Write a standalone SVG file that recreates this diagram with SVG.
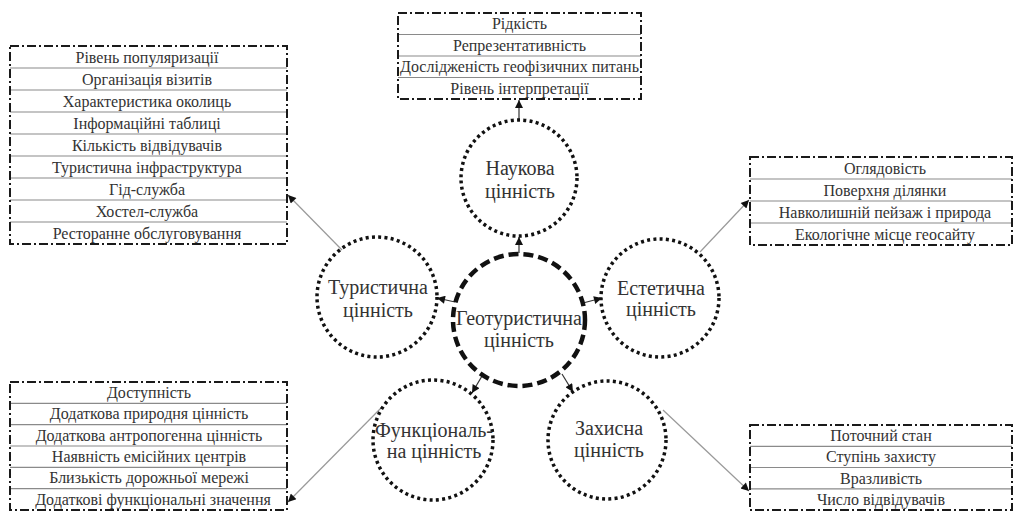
<svg xmlns="http://www.w3.org/2000/svg" width="1017" height="512" viewBox="0 0 1017 512">
<style>
.bg{fill:#fff}
.box{fill:none;stroke:#1a1a1a;stroke-width:2;stroke-dasharray:9 3 2 3}
.sep{stroke:#8a8a8a;stroke-width:1.2}
.bt{font-family:"Liberation Serif","Times New Roman",serif;font-size:16px;fill:#333;text-anchor:middle}
.ct{font-family:"Liberation Serif","Times New Roman",serif;font-size:20px;fill:#333;text-anchor:middle}
.dot{fill:none;stroke:#111;stroke-width:3.5;stroke-dasharray:3 3.3}
.dash{fill:none;stroke:#111;stroke-width:4.5;stroke-dasharray:10 5}
.short{stroke:#333;stroke-width:1.2;fill:none}
.long{stroke:#999;stroke-width:1.2;fill:none}
</style>
<defs>
<marker id="ah" viewBox="0 0 10 10" refX="10" refY="5" markerWidth="10" markerHeight="8" markerUnits="userSpaceOnUse" orient="auto">
<path d="M0,0 L10,5 L0,10 z" fill="#111"/>
</marker>
</defs>
<rect class="bg" x="0" y="0" width="1017" height="512"/>

<g id="connectors">
<line class="short" x1="519" y1="253" x2="519" y2="237" marker-end="url(#ah)"/>
<line class="short" x1="519" y1="120" x2="519" y2="100" marker-end="url(#ah)"/>
<line class="short" x1="455" y1="302" x2="437" y2="298" marker-end="url(#ah)"/>
<line class="long" x1="342" y1="250" x2="288" y2="195" marker-end="url(#ah)"/>
<line class="short" x1="583" y1="303" x2="602" y2="298" marker-end="url(#ah)"/>
<line class="long" x1="700" y1="252" x2="749" y2="200" marker-end="url(#ah)"/>
<line class="short" x1="482" y1="376" x2="472" y2="393" marker-end="url(#ah)"/>
<line class="long" x1="382" y1="407" x2="288" y2="502" marker-end="url(#ah)"/>
<line class="short" x1="562" y1="374" x2="573" y2="392" marker-end="url(#ah)"/>
<line class="long" x1="663" y1="410" x2="749" y2="491" marker-end="url(#ah)"/>
</g>

<g id="geo">
<circle class="dash" cx="519" cy="320" r="66"/>
<text class="ct" x="519" y="325">Геотуристична</text>
<text class="ct" x="519" y="347">цінність</text>
</g>
<g id="naukova">
<circle class="dot" cx="519" cy="178" r="58"/>
<text class="ct" x="520" y="175">Наукова</text>
<text class="ct" x="520" y="198">цінність</text>
</g>
<g id="turystychna">
<circle class="dot" cx="377" cy="297" r="60"/>
<text class="ct" x="378" y="294">Туристична</text>
<text class="ct" x="378" y="317">цінність</text>
</g>
<g id="estetychna">
<circle class="dot" cx="660" cy="298" r="59"/>
<text class="ct" x="661" y="295">Естетична</text>
<text class="ct" x="661" y="316">цінність</text>
</g>
<g id="funktsionalna">
<circle class="dot" cx="433" cy="440" r="60"/>
<text class="ct" x="434" y="437">Функціональ-</text>
<text class="ct" x="434" y="458">на цінність</text>
</g>
<g id="zakhysna">
<circle class="dot" cx="607" cy="440" r="59"/>
<text class="ct" x="609" y="435">Захисна</text>
<text class="ct" x="609" y="457">цінність</text>
</g>

<g id="box-top">
<line class="sep" x1="398" y1="34.5" x2="641" y2="34.5"/>
<line class="sep" x1="398" y1="56" x2="641" y2="56"/>
<line class="sep" x1="398" y1="77.5" x2="641" y2="77.5"/>
<rect class="box" x="398" y="13" width="243" height="86"/>
<text class="bt" x="519.5" y="29">Рідкість</text>
<text class="bt" x="519.5" y="50.5">Репрезентативність</text>
<text class="bt" x="519.5" y="72">Дослідженість геофізичних питань</text>
<text class="bt" x="519.5" y="93.5">Рівень інтерпретації</text>
</g>

<g id="box-tourist">
<line class="sep" x1="10" y1="68" x2="287" y2="68"/>
<line class="sep" x1="10" y1="90" x2="287" y2="90"/>
<line class="sep" x1="10" y1="112" x2="287" y2="112"/>
<line class="sep" x1="10" y1="134" x2="287" y2="134"/>
<line class="sep" x1="10" y1="156" x2="287" y2="156"/>
<line class="sep" x1="10" y1="178" x2="287" y2="178"/>
<line class="sep" x1="10" y1="200" x2="287" y2="200"/>
<line class="sep" x1="10" y1="222" x2="287" y2="222"/>
<rect class="box" x="10" y="46" width="277" height="198"/>
<text class="bt" x="147" y="62.5">Рівень популяризації</text>
<text class="bt" x="147" y="84.5">Організація візитів</text>
<text class="bt" x="147" y="106.5">Характеристика околиць</text>
<text class="bt" x="147" y="128.5">Інформаційні таблиці</text>
<text class="bt" x="147" y="150.5">Кількість відвідувачів</text>
<text class="bt" x="147" y="172.5">Туристична інфраструктура</text>
<text class="bt" x="147" y="194.5">Гід-служба</text>
<text class="bt" x="147" y="216.5">Хостел-служба</text>
<text class="bt" x="147" y="238.5">Ресторанне обслуговування</text>
</g>

<g id="box-estet">
<line class="sep" x1="750" y1="179" x2="1012" y2="179"/>
<line class="sep" x1="750" y1="201" x2="1012" y2="201"/>
<line class="sep" x1="750" y1="223" x2="1012" y2="223"/>
<rect class="box" x="750" y="157" width="262" height="88"/>
<text class="bt" x="885" y="173.5">Оглядовість</text>
<text class="bt" x="885" y="195.5">Поверхня ділянки</text>
<text class="bt" x="885" y="217.5">Навколишній пейзаж і природа</text>
<text class="bt" x="885" y="239.5">Екологічне місце геосайту</text>
</g>

<g id="box-func">
<line class="sep" x1="10" y1="403.3" x2="287" y2="403.3"/>
<line class="sep" x1="10" y1="424.7" x2="287" y2="424.7"/>
<line class="sep" x1="10" y1="446" x2="287" y2="446"/>
<line class="sep" x1="10" y1="467.3" x2="287" y2="467.3"/>
<line class="sep" x1="10" y1="488.7" x2="287" y2="488.7"/>
<rect class="box" x="10" y="382" width="277" height="128"/>
<text class="bt" x="149" y="398">Доступність</text>
<text class="bt" x="149" y="419.3">Додаткова природня цінність</text>
<text class="bt" x="149" y="440.7">Додаткова антропогенна цінність</text>
<text class="bt" x="149" y="462">Наявність емісійних центрів</text>
<text class="bt" x="149" y="483.3">Близькість дорожньої мережі</text>
<text class="bt" x="153" y="504.7">Додаткові функціональні значення</text>
</g>

<g id="box-zakh">
<line class="sep" x1="750" y1="446.3" x2="1012" y2="446.3"/>
<line class="sep" x1="750" y1="467.5" x2="1012" y2="467.5"/>
<line class="sep" x1="750" y1="488.8" x2="1012" y2="488.8"/>
<rect class="box" x="750" y="425" width="262" height="85"/>
<text class="bt" x="881" y="441">Поточний стан</text>
<text class="bt" x="881" y="462.3">Ступінь захисту</text>
<text class="bt" x="881" y="483.5">Вразливість</text>
<text class="bt" x="881" y="504.8">Число відвідувачів</text>
</g>
</svg>
